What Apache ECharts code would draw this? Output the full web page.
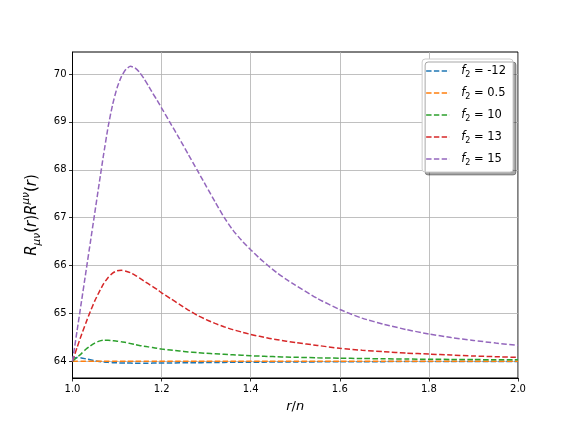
<!DOCTYPE html>
<html>
<head>
<meta charset="utf-8">
<script src="https://cdn.jsdelivr.net/npm/echarts@6/dist/echarts.min.js"></script>
<style>
  html, body { margin: 0; padding: 0; background: #fff; }
  #chart { width: 576px; height: 432px; }
</style>
</head>
<body>
<div id="chart"></div>
<script>
// sample positions r/n
var rVals = [1.00, 1.01, 1.02, 1.03, 1.04, 1.05, 1.06, 1.07, 1.08, 1.09, 1.10, 1.11, 1.12, 1.13, 1.14, 1.15, 1.16, 1.17, 1.18, 1.19, 1.20,
             1.22, 1.24, 1.26, 1.28, 1.30, 1.32, 1.34, 1.36, 1.38, 1.40, 1.42, 1.44, 1.46, 1.48, 1.50,
             1.55, 1.60, 1.65, 1.70, 1.75, 1.80, 1.85, 1.90, 1.95, 2.00];

// R_{mu nu} R^{mu nu}, one list per f2
var fMinus12 = [64.06, 64.08, 64.07, 64.05, 64.03, 64.01, 63.995, 63.985, 63.977, 63.971, 63.967, 63.964, 63.962, 63.961, 63.96, 63.96, 63.96, 63.96, 63.961, 63.961, 63.962,
                63.964, 63.966, 63.968, 63.97, 63.972, 63.974, 63.976, 63.977, 63.979, 63.98, 63.981, 63.982, 63.983, 63.984, 63.985,
                63.987, 63.989, 63.991, 63.992, 63.993, 63.994, 63.995, 63.996, 63.996, 63.997];
var fHalf = [64.0, 64.0, 64.0, 64.0, 64.0, 64.0, 64.0, 64.0, 64.0, 64.0, 64.0, 64.0, 64.0, 64.0, 64.0, 64.0, 64.0, 64.0, 64.0, 64.0, 64.0,
             64.0, 64.0, 64.0, 64.0, 64.0, 64.0, 64.0, 64.0, 64.0, 64.0, 64.0, 64.0, 64.0, 64.0, 64.0,
             64.0, 64.0, 64.0, 64.0, 64.0, 64.0, 64.0, 64.0, 64.0, 64.0];
var f10 = [64.0, 64.08, 64.16, 64.25, 64.32, 64.38, 64.42, 64.44, 64.44, 64.43, 64.42, 64.405, 64.39, 64.37, 64.35, 64.33, 64.315, 64.3, 64.285, 64.27, 64.255,
           64.235, 64.215, 64.195, 64.18, 64.165, 64.155, 64.145, 64.135, 64.125, 64.115, 64.107, 64.1, 64.094, 64.088, 64.083,
           64.072, 64.064, 64.057, 64.051, 64.046, 64.042, 64.038, 64.035, 64.032, 64.03];
var f13 = [64.0, 64.28, 64.55, 64.8, 65.04, 65.26, 65.45, 65.62, 65.75, 65.84, 65.89, 65.9, 65.88, 65.85, 65.8, 65.74, 65.68, 65.62, 65.56, 65.5, 65.43,
           65.31, 65.19, 65.07, 64.96, 64.87, 64.79, 64.72, 64.66, 64.61, 64.56, 64.52, 64.48, 64.45, 64.42, 64.39,
           64.33, 64.27, 64.23, 64.2, 64.17, 64.15, 64.13, 64.11, 64.095, 64.08];
var f15 = [64.0, 64.62, 65.24, 65.86, 66.48, 67.1, 67.72, 68.33, 68.9, 69.36, 69.71, 69.95, 70.1, 70.16, 70.13, 70.04, 69.91, 69.76, 69.6, 69.45, 69.29,
           68.97, 68.65, 68.32, 67.99, 67.66, 67.33, 67.01, 66.74, 66.52, 66.33, 66.15, 65.99, 65.84, 65.71, 65.59,
           65.31, 65.08, 64.9, 64.77, 64.66, 64.57, 64.495, 64.435, 64.38, 64.33];

var f2Labels = ['-12', '0.5', '10', '13', '15'];
var seriesValues = [fMinus12, fHalf, f10, f13, f15];
var colors = ['#1f77b4', '#ff7f0e', '#2ca02c', '#d62728', '#9467bd'];

var xTicks = [1.0, 1.2, 1.4, 1.6, 1.8, 2.0];
var yTicks = [64, 65, 66, 67, 68, 69, 70];

var font = 'DejaVu Sans';
// three dashes, like the dashed line handle
var dashIcon = 'path://M0,0h5.5v1.5h-5.5z M7.9,0h5.5v1.5h-5.5z M15.8,0h5.5v1.5h-5.5z M23.2,0h0.2v1.5h-0.2z';

var series = seriesValues.map(function(vals, i) {
  return {
    name: 'f2 = ' + f2Labels[i],
    type: 'line',
    data: rVals.map(function(r, j) { return [r, vals[j]]; }),
    showSymbol: false,
    symbol: 'none',
    smooth: 0.2,
    lineStyle: { color: colors[i], width: 1.5, type: [5.5, 2.4] },
    itemStyle: { color: colors[i] },
    z: 3 + i
  };
});

var chart = echarts.init(document.getElementById('chart'), null, { renderer: 'canvas' });
chart.setOption({
  animation: false,
  backgroundColor: '#fff',
  textStyle: { fontFamily: font },
  grid: {
    left: 72.5, right: 58, top: 52, bottom: 54,
    show: true, borderColor: '#000', borderWidth: 1, backgroundColor: 'transparent'
  },
  legend: {
    orient: 'vertical',
    right: 63,
    top: 59,
    icon: dashIcon,
    itemWidth: 23,
    itemHeight: 14,
    itemGap: 8,
    padding: [6, 7, 5, 4],
    backgroundColor: '#fff',
    borderColor: '#cccccc',
    borderWidth: 1,
    borderRadius: 3,
    shadowColor: 'rgba(0,0,0,0.35)',
    shadowBlur: 0,
    shadowOffsetX: 3,
    shadowOffsetY: 3,
    formatter: function(name) {
      return '{i|f}{s|2}{t| = ' + name.split('= ')[1] + '}';
    },
    textStyle: {
      fontFamily: font,
      color: '#000',
      rich: {
        i: { fontFamily: font, fontStyle: 'italic', fontSize: 11.5, lineHeight: 16, padding: [0, 0, 0, 7] },
        s: { fontFamily: font, fontSize: 8, lineHeight: 16, verticalAlign: 'bottom', padding: [6, 0, 0, 0] },
        t: { fontFamily: font, fontSize: 11.5, lineHeight: 16 }
      }
    }
  },
  xAxis: {
    type: 'value',
    min: 1,
    max: 2,
    interval: 0.2,
    name: '{i|r}{n|/}{i|n}',
    nameLocation: 'middle',
    nameGap: 22,
    nameTextStyle: {
      rich: {
        i: { fontFamily: font, fontStyle: 'italic', fontSize: 13, color: '#000' },
        n: { fontFamily: font, fontSize: 13, color: '#000' }
      }
    },
    axisLine: { show: true, lineStyle: { color: '#000', width: 1 } },
    axisTick: { show: true, inside: false, length: 3.5, lineStyle: { color: '#000', width: 0.8 } },
    axisLabel: {
      color: '#000', fontSize: 10, fontFamily: font, margin: 6,
      customValues: xTicks,
      formatter: function(v) { return v.toFixed(1); }
    },
    splitLine: { show: true, lineStyle: { color: '#b0b0b0', width: 0.8 } }
  },
  yAxis: {
    type: 'value',
    min: 63.65,
    max: 70.46,
    name: '{i|R}{sb|μν}{n|(}{i|r}{n|)}{i|R}{sp|μν}{n|(}{i|r}{n|)}',
    nameLocation: 'middle',
    nameRotate: 90,
    nameGap: 26,
    nameTextStyle: {
      rich: {
        i: { fontFamily: font, fontStyle: 'italic', fontSize: 15, lineHeight: 22, color: '#000' },
        n: { fontFamily: font, fontSize: 15, lineHeight: 22, color: '#000' },
        sb: { fontFamily: font, fontStyle: 'italic', fontSize: 10.5, lineHeight: 22, verticalAlign: 'bottom', padding: [6, 0, 0, 0], color: '#000' },
        sp: { fontFamily: font, fontStyle: 'italic', fontSize: 10.5, lineHeight: 22, verticalAlign: 'top', padding: [0, 0, 8, 0], color: '#000' }
      }
    },
    axisLine: { show: true, lineStyle: { color: '#000', width: 1 } },
    axisTick: { show: true, inside: false, length: 3.5, customValues: yTicks, lineStyle: { color: '#000', width: 0.8 } },
    axisLabel: {
      color: '#000', fontSize: 10, fontFamily: font, margin: 6,
      customValues: yTicks,
      formatter: function(v) { return String(Math.round(v)); }
    },
    splitLine: { show: true, lineStyle: { color: '#b0b0b0', width: 0.8 } }
  },
  series: series
});
</script>
</body>
</html>
